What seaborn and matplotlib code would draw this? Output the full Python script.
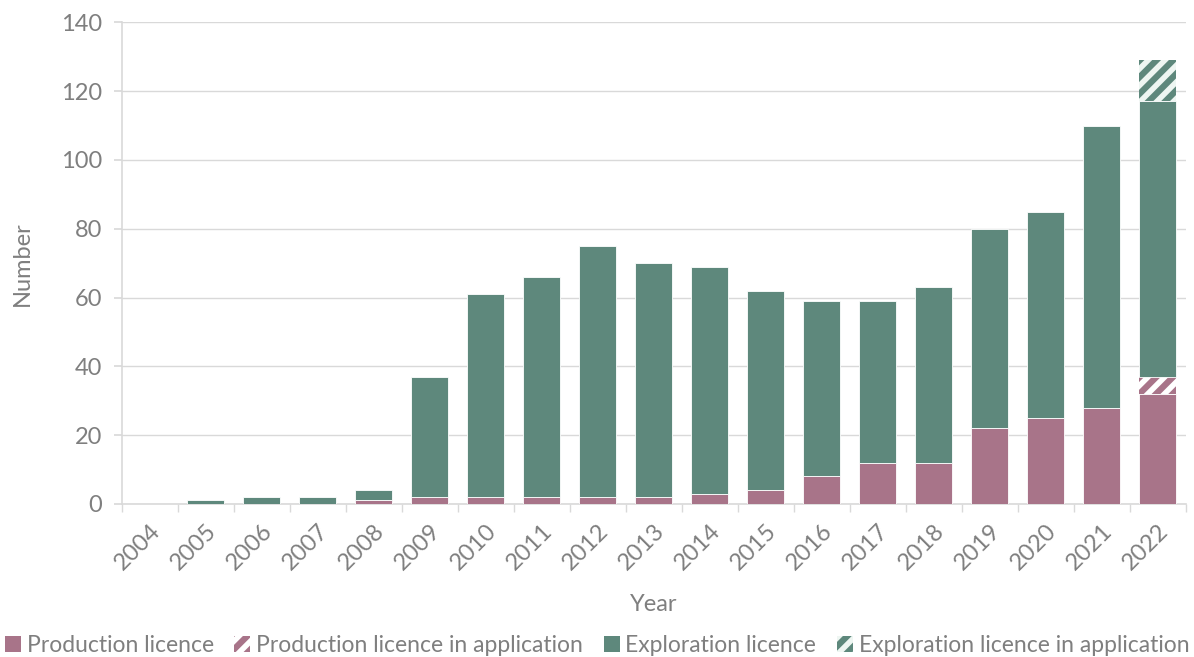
import matplotlib
matplotlib.use("Agg")
import matplotlib.pyplot as plt
import seaborn as sns
import pandas as pd
import numpy as np
from matplotlib.patches import Patch

years = [str(y) for y in range(2004, 2023)]
production = [0, 0, 0, 0, 1, 2, 2, 2, 2, 2, 3, 4, 8, 12, 12, 22, 25, 28, 32]
production_app = [0]*18 + [5]
exploration = [0, 1, 2, 2, 3, 35, 59, 64, 73, 68, 66, 58, 51, 47, 51, 58, 60, 82, 80]
exploration_app = [0]*18 + [12]

PINK = "#A87489"
GREEN = "#5E887C"
TXT = "#7f7f7f"
GRID = "#d9d9d9"

sns.set_theme(style="white")
plt.rcParams['font.family'] = ['Lato', 'DejaVu Sans']
plt.rcParams['hatch.linewidth'] = 4.5

df = pd.DataFrame({"Year": years, "prod": production, "prod_app": production_app,
                   "expl": exploration, "expl_app": exploration_app})

fig, ax = plt.subplots(figsize=(11.94, 6.57), dpi=100)
fig.subplots_adjust(left=0.102, right=0.993, top=0.966, bottom=0.233)

b0 = np.zeros(len(years))
w = 0.66
sns.barplot(data=df, x="Year", y="prod", color=PINK, saturation=1, width=w,
            ax=ax, bottom=b0, edgecolor="white", linewidth=0.6, zorder=3)
b1 = b0 + df["prod"].values
sns.barplot(data=df, x="Year", y="prod_app", color="white", saturation=1, width=w,
            ax=ax, bottom=b1, edgecolor=PINK, linewidth=0, hatch="//", zorder=3)
b2 = b1 + df["prod_app"].values
sns.barplot(data=df, x="Year", y="expl", color=GREEN, saturation=1, width=w,
            ax=ax, bottom=b2, edgecolor="white", linewidth=0.6, zorder=3)
b3 = b2 + df["expl"].values
sns.barplot(data=df, x="Year", y="expl_app", color="#EEF6F2", saturation=1, width=w,
            ax=ax, bottom=b3, edgecolor=GREEN, linewidth=0, hatch="//", zorder=3)

ax.set_ylim(0, 140)
ax.set_xlim(-0.5, len(years) - 0.5)
ax.set_yticks(range(0, 141, 20))
ax.yaxis.grid(True, color=GRID, linewidth=1, zorder=0)
ax.set_axisbelow(True)
for s in ["top", "right"]:
    ax.spines[s].set_visible(False)
for s in ["left", "bottom"]:
    ax.spines[s].set_color(GRID)
    ax.spines[s].set_linewidth(1.2)

FS = 17
ax.tick_params(axis="y", which="major", length=6, color=GRID, labelsize=FS, labelcolor=TXT, pad=8, left=True)
ax.set_xticks(np.arange(len(years)))
ax.set_xticklabels(years, rotation=45, ha="right", rotation_mode="anchor")
ax.tick_params(axis="x", which="major", length=0, labelsize=FS, labelcolor=TXT, pad=12)
ax.set_xticks(np.arange(len(years) + 1) - 0.5, minor=True)
ax.tick_params(axis="x", which="minor", length=6, color=GRID, bottom=True)

ax.set_xlabel("Year", fontsize=FS, color=TXT, labelpad=14)
ax.set_ylabel("Number", fontsize=FS, color=TXT, labelpad=20)

handles = [
    Patch(facecolor=PINK, edgecolor=PINK, linewidth=0, label="Production licence"),
    Patch(facecolor="white", edgecolor=PINK, linewidth=0, hatch="//", label="Production licence in application"),
    Patch(facecolor=GREEN, edgecolor=GREEN, linewidth=0, label="Exploration licence"),
    Patch(facecolor="#EEF6F2", edgecolor=GREEN, linewidth=0, hatch="//", label="Exploration licence in application"),
]
leg = fig.legend(handles=handles, loc="lower center", ncol=4, frameon=False,
                 bbox_to_anchor=(0.5, -0.03), fontsize=16.5, handlelength=0.7,
                 handleheight=0.7, handletextpad=0.25, columnspacing=0.9)
for t in leg.get_texts():
    t.set_color(TXT)

fig.savefig("out.png", dpi=100)
